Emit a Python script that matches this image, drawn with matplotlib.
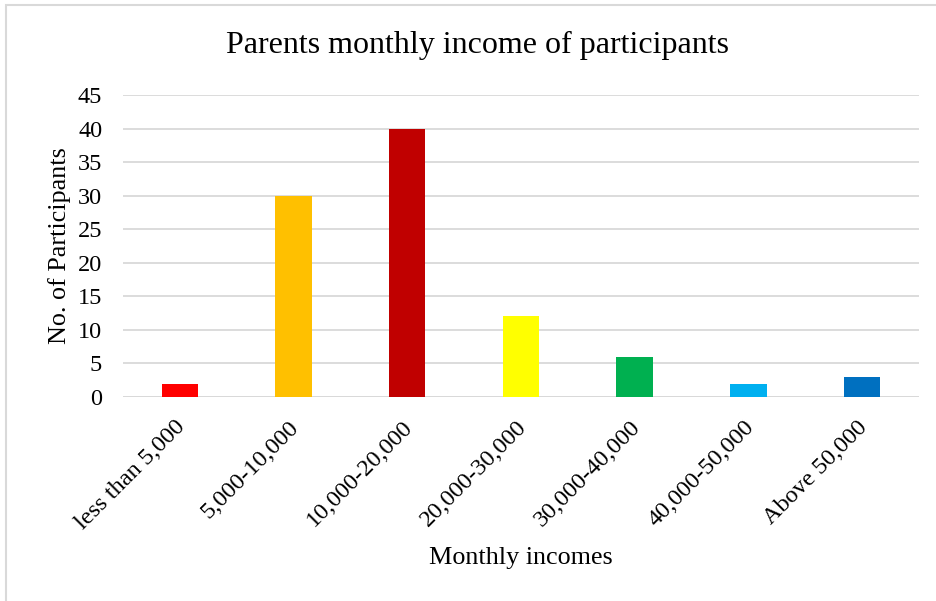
import matplotlib.pyplot as plt
from matplotlib.patches import Rectangle
from matplotlib.transforms import ScaledTranslation

plt.rcParams['font.family'] = ['Liberation Serif', 'DejaVu Serif']

categories = ["less than 5,000", "5,000-10,000", "10,000-20,000", "20,000-30,000",
              "30,000-40,000", "40,000-50,000", "Above 50,000"]
participants = [2, 30, 40, 12, 6, 2, 3]
colors = ["#FF0000", "#FFC000", "#C00000", "#FFFF00", "#00B050", "#00B0F0", "#0070C0"]

fig = plt.figure(figsize=(9.36, 6.01), dpi=100)
ax = fig.add_axes([0.1314, 0.3394, 0.8504, 0.5025])

x = range(len(categories))
ax.bar(x, participants, width=0.32, color=colors, zorder=3)

ax.set_xlim(-0.5, len(categories) - 0.5)
ax.set_ylim(0, 45)
ax.set_yticks(range(0, 46, 5))
ax.yaxis.grid(True, color="#D9D9D9", linewidth=1.3, zorder=0)
ax.axhline(0, color="#D9D9D9", linewidth=1.3, zorder=1)
for s in ax.spines.values():
    s.set_visible(False)
ax.tick_params(length=0, labelsize=17.5)
ax.tick_params(axis='y', pad=15)
ax.tick_params(axis='x', pad=12)

ax.set_xticks(list(x))
ax.set_xticklabels(categories, rotation=45, ha='right', va='top', rotation_mode='anchor')
shift = ScaledTranslation(-5 / 100, -3 / 100, fig.dpi_scale_trans)
for lbl in ax.get_xticklabels():
    lbl.set_transform(lbl.get_transform() + shift)

fig.text(478 / 936, 1 - 45 / 601, "Parents monthly income of participants",
         fontsize=23, ha='center', va='center')
ax.set_ylabel("No. of Participants", fontsize=18.8, labelpad=5)
ax.set_xlabel("Monthly incomes", fontsize=18.8, labelpad=9)

# light frame around the chart area
fig.patches.append(Rectangle((6 / 936, -0.01), 1.0, 1 - 5 / 601 + 0.01, transform=fig.transFigure,
                             fill=False, edgecolor="#D9D9D9", linewidth=1.5))

fig.savefig("out.png", dpi=100)
